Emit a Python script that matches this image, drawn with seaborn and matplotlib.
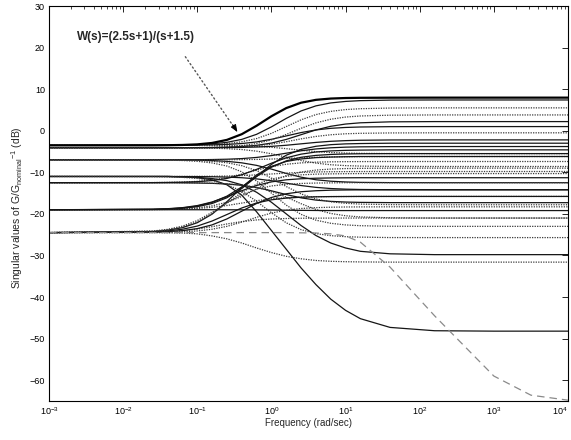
import numpy as np
import pandas as pd
import matplotlib
matplotlib.use("Agg")
import matplotlib.pyplot as plt
import seaborn as sns

# ---------------- data ----------------
FREQ = [0.001, 0.0251, 0.0398, 0.0631, 0.1, 0.158, 0.251, 0.398, 0.631, 1.0,
        1.585, 2.512, 3.981, 6.31, 10.0, 15.85, 39.8, 158.5, 1000.0, 3162.0, 10000.0]

# weighting function W(s)=(2.5s+1)/(s+1.5), magnitude in dB
W_DB = [-3.52, -3.51, -3.48, -3.42, -3.28, -2.94, -2.20, -0.83, 1.20, 3.49,
        5.45, 6.74, 7.43, 7.74, 7.87, 7.92, 7.95, 7.96, 7.96, 7.96, 7.96]

# singular values of G/Gnominal - 1 (dB), grouped by low-frequency level
SV_A = [
    [-3.5, -3.5, -3.47, -3.42, -3.34, -3.15, -2.79, -2.08, -0.86, 0.93, 2.97, 4.76, 5.98, 6.69, 7.05, 7.24, 7.37, 7.4, 7.4, 7.4, 7.4],
    [-3.5, -3.5, -3.48, -3.46, -3.41, -3.30, -3.09, -2.66, -1.88, -0.63, 1.0, 2.63, 3.88, 4.66, 5.09, 5.30, 5.46, 5.5, 5.5, 5.5, 5.5],
    [-3.5, -3.5, -3.49, -3.48, -3.46, -3.40, -3.29, -3.08, -2.69, -2.06, -1.25, -0.44, 0.19, 0.58, 0.79, 0.90, 0.98, 1.0, 1.0, 1.0, 1.0],
    [-3.5, -3.5, -3.5, -3.51, -3.51, -3.53, -3.56, -3.63, -3.76, -3.98, -4.31, -4.69, -5.02, -5.24, -5.37, -5.44, -5.49, -5.5, -5.5, -5.5, -5.5],
]
SV_B = [
    [-4.1, -4.1, -4.1, -4.08, -4.04, -3.98, -3.85, -3.59, -3.07, -2.19, -0.89, 0.59, 1.89, 2.77, 3.29, 3.55, 3.74, 3.8, 3.8, 3.8, 3.8],
    [-4.1, -4.1, -4.09, -4.09, -4.07, -4.04, -3.96, -3.81, -3.51, -2.97, -2.09, -0.95, 0.19, 1.07, 1.61, 1.91, 2.14, 2.2, 2.2, 2.2, 2.2],
    [-4.1, -4.1, -4.1, -4.09, -4.08, -4.05, -3.99, -3.87, -3.63, -3.23, -2.64, -1.96, -1.37, -0.97, -0.73, -0.62, -0.53, -0.5, -0.5, -0.5, -0.5],
    [-4.1, -4.1, -4.1, -4.1, -4.09, -4.08, -4.06, -4.01, -3.92, -3.76, -3.49, -3.15, -2.81, -2.54, -2.38, -2.29, -2.22, -2.2, -2.2, -2.2, -2.2],
    [-4.1, -4.1, -4.11, -4.12, -4.15, -4.20, -4.31, -4.52, -4.91, -5.54, -6.35, -7.16, -7.79, -8.18, -8.39, -8.50, -8.58, -8.6, -8.6, -8.6, -8.6],
]
SV_C = [
    [-7.0, -7.0, -6.99, -6.98, -6.97, -6.93, -6.85, -6.70, -6.42, -5.98, -5.40, -4.82, -4.38, -4.10, -3.95, -3.87, -3.82, -3.8, -3.8, -3.8, -3.8],
    [-7.0, -7.0, -7.0, -7.0, -6.99, -6.99, -6.97, -6.95, -6.90, -6.81, -6.68, -6.53, -6.39, -6.30, -6.25, -6.23, -6.21, -6.2, -6.2, -6.2, -6.2],
    [-7.0, -7.0, -7.02, -7.04, -7.08, -7.18, -7.36, -7.72, -8.33, -9.23, -10.27, -11.17, -11.79, -12.14, -12.32, -12.42, -12.48, -12.5, -12.5, -12.5, -12.5],
    [-7.0, -7.03, -7.08, -7.16, -7.35, -7.74, -8.49, -9.88, -12.10, -15.0, -17.9, -20.12, -21.51, -22.26, -22.65, -22.84, -22.97, -23.0, -23.0, -23.0, -23.0],
]
SV_D = [
    [-11.0, -11.0, -11.0, -11.1, -11.2, -11.5, -12.0, -13.0, -14.8, -17.2, -20.0, -22.8, -25.2, -27.0, -28.2, -29.0, -29.6, -29.8, -29.8, -29.8, -29.8],
    [-11.0, -11.0, -11.0, -11.1, -11.3, -11.8, -13.0, -15.5, -19.5, -24.0, -28.5, -33.0, -37.0, -40.5, -43.2, -45.2, -47.3, -48.1, -48.2, -48.2, -48.2],
    [-11.0, -11.0, -10.99, -10.99, -10.97, -10.95, -10.89, -10.78, -10.62, -10.40, -10.18, -10.02, -9.91, -9.86, -9.83, -9.81, -9.8, -9.8, -9.8, -9.8, -9.8],
    [-11.0, -11.0, -11.01, -11.02, -11.03, -11.07, -11.15, -11.30, -11.58, -12.02, -12.60, -13.18, -13.62, -13.90, -14.05, -14.13, -14.18, -14.2, -14.2, -14.2, -14.2],
    [-11.0, -11.04, -11.10, -11.22, -11.47, -11.96, -12.91, -14.56, -16.97, -19.73, -22.14, -23.79, -24.74, -25.23, -25.48, -25.60, -25.69, -25.7, -25.7, -25.7, -25.7],
]
SV_E = [
    [-12.5, -12.46, -12.42, -12.34, -12.17, -11.84, -11.27, -10.43, -9.47, -8.63, -8.06, -7.73, -7.56, -7.48, -7.44, -7.42, -7.4, -7.4, -7.4, -7.4, -7.4],
    [-12.5, -12.5, -12.51, -12.53, -12.57, -12.65, -12.81, -13.12, -13.66, -14.45, -15.35, -16.14, -16.68, -16.99, -17.15, -17.23, -17.29, -17.3, -17.3, -17.3, -17.3],
    [-12.5, -12.5, -12.5, -12.53, -12.56, -12.63, -12.77, -13.05, -13.61, -14.56, -15.95, -17.55, -18.94, -19.90, -20.45, -20.73, -20.94, -21.0, -21.0, -21.0, -21.0],
]
SV_F = [
    [-19.0, -18.88, -18.75, -18.50, -18.00, -17.14, -15.87, -14.43, -13.16, -12.30, -11.80, -11.55, -11.42, -11.35, -11.32, -11.3, -11.3, -11.3, -11.3, -11.3, -11.3],
    [-19.0, -18.97, -18.93, -18.85, -18.70, -18.42, -17.98, -17.40, -16.82, -16.38, -16.10, -15.95, -15.87, -15.83, -15.82, -15.81, -15.8, -15.8, -15.8, -15.8, -15.8],
    [-19.0, -18.91, -18.80, -18.57, -18.12, -17.24, -15.73, -13.52, -10.98, -8.77, -7.25, -6.38, -5.93, -5.70, -5.59, -5.54, -5.5, -5.5, -5.5, -5.5, -5.5],
    [-19.0, -18.95, -18.90, -18.78, -18.54, -18.07, -17.20, -15.81, -14.00, -12.19, -10.80, -9.93, -9.46, -9.22, -9.10, -9.05, -9.0, -9.0, -9.0, -9.0, -9.0],
    [-19.0, -19.0, -19.0, -19.0, -19.0, -19.0, -19.01, -19.02, -19.04, -19.07, -19.11, -19.15, -19.18, -19.2, -19.2, -19.2, -19.2, -19.2, -19.2, -19.2, -19.2],
]
SV_G = [
    [-24.5, -24.23, -23.91, -23.31, -22.12, -20.07, -17.07, -13.63, -10.63, -8.58, -7.39, -6.79, -6.47, -6.33, -6.25, -6.2, -6.2, -6.2, -6.2, -6.2, -6.2],
    [-24.5, -24.12, -23.72, -22.94, -21.60, -19.63, -17.37, -15.40, -14.06, -13.28, -12.88, -12.68, -12.58, -12.54, -12.5, -12.5, -12.5, -12.5, -12.5, -12.5, -12.5],
    [-24.5, -24.31, -24.10, -23.69, -22.93, -21.72, -20.15, -18.58, -17.37, -16.61, -16.20, -15.99, -15.89, -15.84, -15.82, -15.8, -15.8, -15.8, -15.8, -15.8, -15.8],
    [-24.5, -24.39, -24.27, -24.04, -23.65, -23.08, -22.42, -21.85, -21.45, -21.23, -21.11, -21.05, -21.02, -21.01, -21.0, -21.0, -21.0, -21.0, -21.0, -21.0, -21.0],
    [-24.5, -24.40, -24.27, -24.03, -23.54, -22.65, -21.21, -19.35, -17.49, -16.05, -15.16, -14.67, -14.43, -14.30, -14.25, -14.22, -14.2, -14.2, -14.2, -14.2, -14.2],
    [-24.5, -24.5, -24.55, -24.6, -24.8, -25.3, -26.0, -27.0, -28.2, -29.3, -30.2, -30.8, -31.2, -31.4, -31.5, -31.55, -31.6, -31.6, -31.6, -31.6, -31.6],
]
SV_H = [
    [-24.5, -24.19, -23.85, -23.18, -21.94, -19.97, -17.40, -14.83, -12.86, -11.62, -10.95, -10.61, -10.44, -10.37, -10.33, -10.3, -10.3, -10.3, -10.3, -10.3, -10.3],
    [-19.0, -18.92, -18.84, -18.65, -18.26, -17.51, -16.12, -13.90, -11.00, -8.10, -5.88, -4.49, -3.74, -3.35, -3.16, -3.08, -3.0, -3.0, -3.0, -3.0, -3.0],
    [-7.0, -7.0, -7.03, -7.08, -7.16, -7.35, -7.70, -8.40, -9.61, -11.38, -13.42, -15.19, -16.40, -17.10, -17.45, -17.64, -17.77, -17.8, -17.8, -17.8, -17.8],
    [-12.5, -12.48, -12.44, -12.38, -12.25, -11.99, -11.47, -10.59, -9.29, -7.81, -6.51, -5.63, -5.11, -4.85, -4.72, -4.66, -4.6, -4.6, -4.6, -4.6, -4.6],
    [-24.5, -24.46, -24.41, -24.30, -24.10, -23.69, -23.00, -21.98, -20.82, -19.80, -19.11, -18.70, -18.50, -18.39, -18.34, -18.32, -18.3, -18.3, -18.3, -18.3, -18.3],
]
SV_ROLLOFF = [-24.5, -24.5, -24.5, -24.5, -24.5, -24.5, -24.5, -24.5, -24.5, -24.5, -24.5, -24.55, -24.6, -24.8, -25.3, -26.8, -32.8, -44.5, -59.0, -63.6, -64.8]

X_TICKS = [1e-3, 1e-2, 1e-1, 1e0, 1e1, 1e2, 1e3, 1e4]
Y_TICKS = [-60, -50, -40, -30, -20, -10, 0, 10, 20, 30]
TITLE_TEXT = "W(s)=(2.5s+1)/(s+1.5)"
X_LABEL = "Frequency (rad/sec)"
Y_LABEL = r"Singular values of G/G$_\mathregular{nominal}$$^\mathregular{-1}$ (dB)"

# ---------------- styling ----------------
sns.set_style("white")
plt.rcParams["font.family"] = ["Liberation Sans", "DejaVu Sans"]
plt.rcParams["mathtext.fontset"] = "custom"
plt.rcParams["mathtext.rm"] = "Liberation Sans"
plt.rcParams["mathtext.it"] = "Liberation Sans:italic"
plt.rcParams["mathtext.bf"] = "Liberation Sans:bold"

SOLID = dict(color="#151515", linestyle="-", linewidth=0.9)
DOT = dict(color="#3a3a3a", linestyle=(0, (1, 1)), linewidth=0.9)
STYLE_A = [SOLID, DOT, SOLID, DOT]
STYLE_B = [DOT, SOLID, DOT, SOLID, DOT]
STYLE_C = [SOLID, DOT, SOLID, DOT]
STYLE_D = [SOLID, SOLID, DOT, SOLID, DOT]
STYLE_E = [DOT, SOLID, DOT]
STYLE_F = [SOLID, DOT, SOLID, DOT, SOLID]
STYLE_G = [SOLID, DOT, SOLID, DOT, SOLID, DOT]
STYLE_H = [DOT, SOLID, DOT, SOLID, DOT]

fig = plt.figure(figsize=(5.71, 4.40), dpi=100)
ax = fig.add_axes([49 / 571, 39 / 440, 519 / 571, 395 / 440])

rows = []
def add(name, vals):
    for f, v in zip(FREQ, vals):
        rows.append((name, f, v))

curves = []
for gname, group, styles in [("A", SV_A, STYLE_A), ("B", SV_B, STYLE_B), ("C", SV_C, STYLE_C),
                             ("D", SV_D, STYLE_D), ("E", SV_E, STYLE_E), ("F", SV_F, STYLE_F),
                             ("G", SV_G, STYLE_G), ("H", SV_H, STYLE_H)]:
    for i, vals in enumerate(group):
        name = f"{gname}{i}"
        add(name, vals)
        curves.append((name, styles[i]))
add("roll", SV_ROLLOFF)
curves.append(("roll", dict(color="#8a8a8a", linestyle=(0, (6, 4)), linewidth=0.9)))
add("W", W_DB)
curves.append(("W", dict(color="black", linestyle="-", linewidth=1.6)))

df = pd.DataFrame(rows, columns=["curve", "freq", "sv"])

for name, st in curves:
    sub = df[df["curve"] == name]
    sns.lineplot(data=sub, x="freq", y="sv", ax=ax, estimator=None, sort=True,
                 legend=False, **st)

ax.set_xscale("log")
ax.set_xlim(1e-3, 1e4)
ax.set_ylim(-65, 30)
ax.set_yticks(Y_TICKS)
ax.xaxis.set_major_locator(matplotlib.ticker.FixedLocator(X_TICKS))
ax.xaxis.set_major_formatter(matplotlib.ticker.LogFormatterSciNotation())
ax.xaxis.set_minor_locator(matplotlib.ticker.LogLocator(base=10, subs=np.arange(2, 10), numticks=100))
ax.xaxis.set_minor_formatter(matplotlib.ticker.NullFormatter())

for s in ax.spines.values():
    s.set_visible(True)
    s.set_color("black")
    s.set_linewidth(0.8)
ax.tick_params(which="both", direction="in", top=True, right=True, labelsize=6.5,
               colors="black", pad=3)
ax.tick_params(which="major", length=4, width=0.6)
ax.tick_params(which="minor", length=2, width=0.5)

ax.set_xlabel(X_LABEL, fontsize=7)
ax.set_ylabel(Y_LABEL, fontsize=7.5)
ax.xaxis.set_label_coords(0.5, -0.043)
ax.yaxis.set_label_coords(-0.047, 0.49)

# annotation
ax.text(0.0024, 22.6, TITLE_TEXT, fontsize=8.5, fontweight="bold", ha="left", va="center")
ARROW_START = (0.069, 17.8)
ARROW_END = (0.347, -0.3)
ARROW_NECK = (0.30, 1.5)
ax.annotate("", xy=ARROW_END, xytext=ARROW_START,
            arrowprops=dict(arrowstyle="-", linestyle=(0, (1, 2)), color="#555555", lw=1.0,
                            shrinkA=0, shrinkB=0))
ax.annotate("", xy=ARROW_END, xytext=ARROW_NECK,
            arrowprops=dict(arrowstyle="-|>,head_length=0.45,head_width=0.18", color="black",
                            lw=0.6, shrinkA=0, shrinkB=0))

# keep the last x tick label inside the figure
fig.canvas.draw()
xlabels = ax.get_xticklabels()
if xlabels:
    xlabels[-1].set_horizontalalignment("right")

fig.savefig("out.png", dpi=100)
